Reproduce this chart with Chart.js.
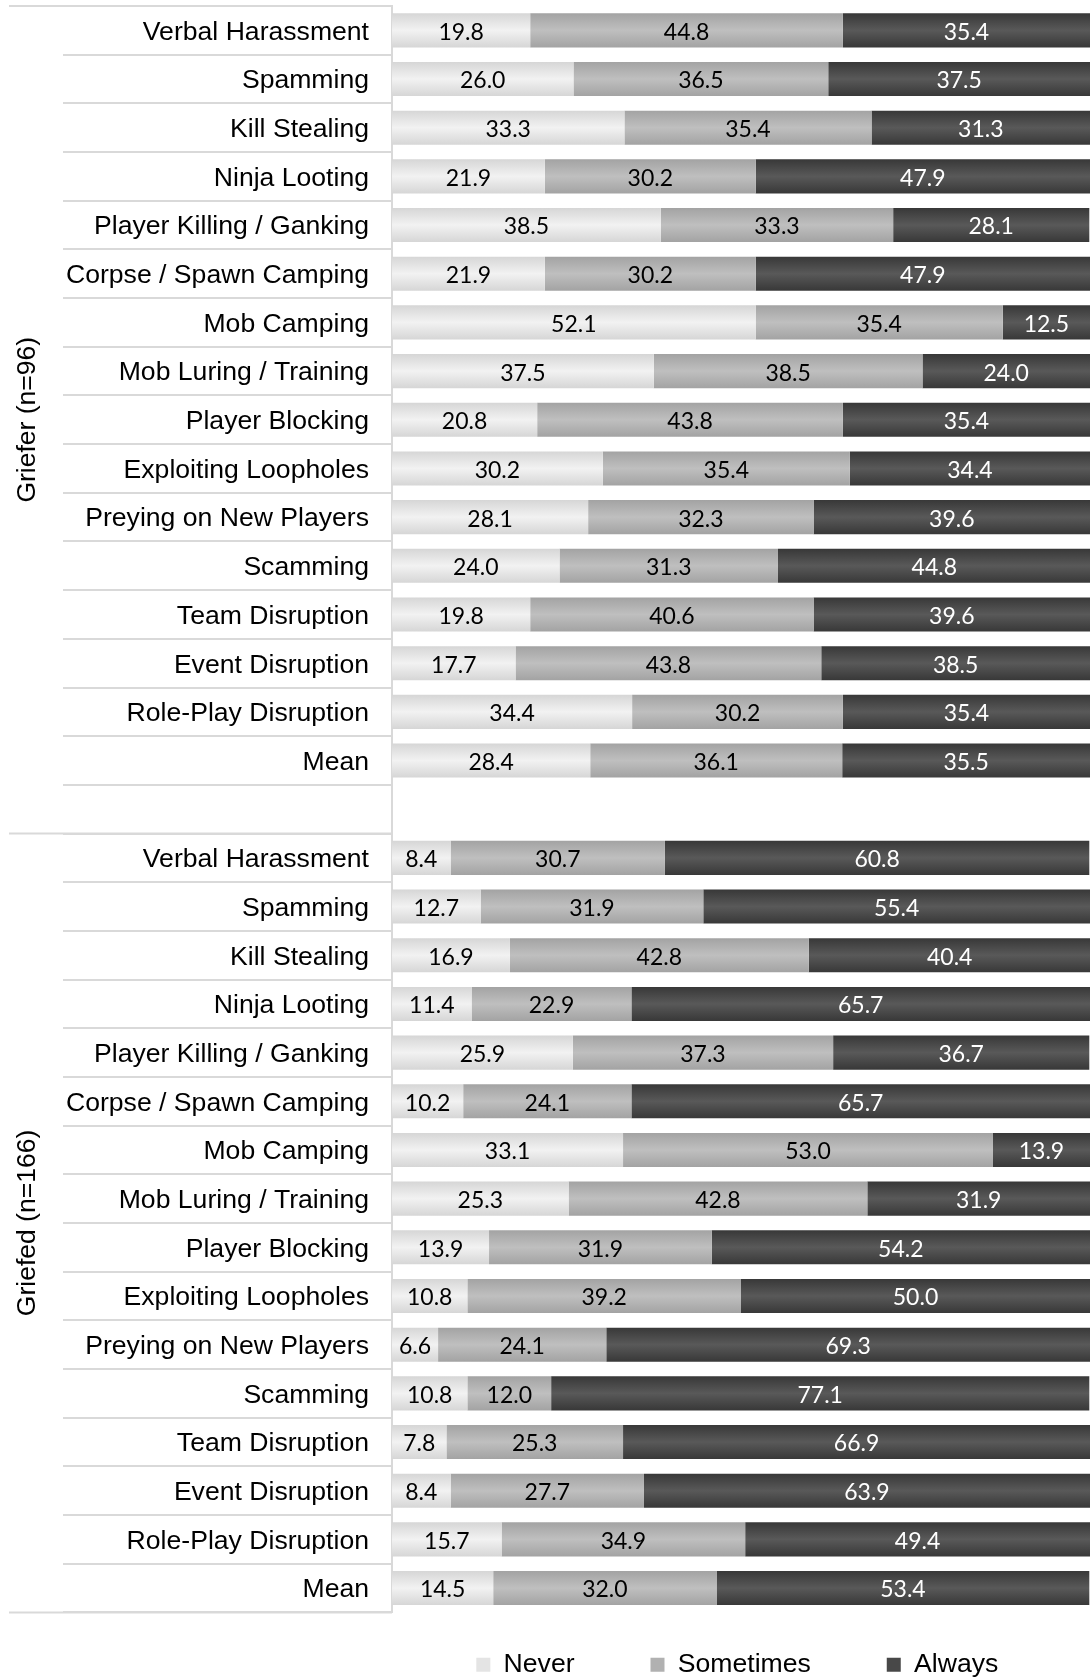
<!DOCTYPE html>
<html><head><meta charset="utf-8">
<script src="https://cdn.jsdelivr.net/npm/chart.js@4.4.1/dist/chart.umd.min.js"></script>
<style>html,body{margin:0;padding:0;background:#fff}#wrap{width:1090px;height:1679px;position:relative}</style>
</head><body><div id="wrap"><canvas id="c"></canvas></div>
<script>
const behaviours = ['Verbal Harassment','Spamming','Kill Stealing','Ninja Looting','Player Killing / Ganking','Corpse / Spawn Camping','Mob Camping','Mob Luring / Training','Player Blocking','Exploiting Loopholes','Preying on New Players','Scamming','Team Disruption','Event Disruption','Role-Play Disruption','Mean'];
const groups = ['Griefer (n=96)','Griefed (n=166)'];
const seriesNames = ['Never','Sometimes','Always'];
const grieferNever = [19.8,26.0,33.3,21.9,38.5,21.9,52.1,37.5,20.8,30.2,28.1,24.0,19.8,17.7,34.4,28.4];
const grieferSometimes = [44.8,36.5,35.4,30.2,33.3,30.2,35.4,38.5,43.8,35.4,32.3,31.3,40.6,43.8,30.2,36.1];
const grieferAlways = [35.4,37.5,31.3,47.9,28.1,47.9,12.5,24.0,35.4,34.4,39.6,44.8,39.6,38.5,35.4,35.5];
const griefedNever = [8.4,12.7,16.9,11.4,25.9,10.2,33.1,25.3,13.9,10.8,6.6,10.8,7.8,8.4,15.7,14.5];
const griefedSometimes = [30.7,31.9,42.8,22.9,37.3,24.1,53.0,42.8,31.9,39.2,24.1,12.0,25.3,27.7,34.9,32.0];
const griefedAlways = [60.8,55.4,40.4,65.7,36.7,65.7,13.9,31.9,54.2,50.0,69.3,77.1,66.9,63.9,49.4,53.4];

const rowLabels = [...behaviours, '', ...behaviours];
const join = (a, b) => [...a, null, ...b];

const LABEL_FONT = '"Liberation Sans", Arial, sans-serif';
const edgeColors = ['#d6d6d6', '#a3a3a3', '#383838'];
const midColors = ['#f2f2f2', '#bfbfbf', '#595959'];
const legendColors = ['#e4e4e4', '#b1b1b1', '#484848'];
const legendTail = ['     ', '     ', ' '];
const BAR_PCT = 0.7;

function makeGrad(k) {
  return function (ctx) {
    const chart = ctx.chart;
    const ys = chart.scales && chart.scales.y;
    if (!ys || ys.top === undefined || ctx.type !== 'data') return midColors[k];
    const c = ys.getPixelForValue(ctx.dataIndex);
    const band = (ys.bottom - ys.top) / rowLabels.length;
    const h = band * BAR_PCT;
    const g = chart.ctx.createLinearGradient(0, c - h / 2, 0, c + h / 2);
    g.addColorStop(0, edgeColors[k]);
    g.addColorStop(0.5, midColors[k]);
    g.addColorStop(1, edgeColors[k]);
    return g;
  };
}

const valueLabels = {
  id: 'valueLabels',
  afterDatasetsDraw(chart) {
    const ctx = chart.ctx;
    ctx.save();
    ctx.font = '23px Lato, "Open Sans", sans-serif';
    ctx.textAlign = 'center';
    ctx.textBaseline = 'middle';
    chart.data.datasets.forEach((ds, i) => {
      const meta = chart.getDatasetMeta(i);
      meta.data.forEach((bar, j) => {
        const v = ds.data[j];
        if (v === null || v === undefined) return;
        ctx.fillStyle = i === 2 ? '#ffffff' : '#000000';
        ctx.fillText(v.toFixed(1), (bar.x + bar.base) / 2, bar.y + 2);
      });
    });
    ctx.restore();
  }
};

const groupFrame = {
  id: 'groupFrame',
  afterDraw(chart) {
    const ys = chart.scales.y;
    const ctx = chart.ctx;
    const band = (ys.bottom - ys.top) / rowLabels.length;
    const bounds = [ys.top, ys.top + (behaviours.length + 1) * band, ys.bottom];
    ctx.save();
    ctx.strokeStyle = '#d9d9d9';
    ctx.lineWidth = 2;
    bounds.forEach(b => {
      ctx.beginPath();
      ctx.moveTo(9, b);
      ctx.lineTo(ys.right, b);
      ctx.stroke();
    });
    ctx.fillStyle = '#000';
    ctx.font = '26.5px ' + LABEL_FONT;
    ctx.textAlign = 'center';
    ctx.textBaseline = 'alphabetic';
    groups.forEach((g, k) => {
      const yc = (bounds[k] + bounds[k + 1]) / 2;
      ctx.save();
      ctx.translate(35, yc);
      ctx.rotate(-Math.PI / 2);
      ctx.fillText(g, 0, 0);
      ctx.restore();
    });
    ctx.restore();
  }
};

new Chart(document.getElementById('c'), {
  type: 'bar',
  data: {
    labels: rowLabels,
    datasets: [
      { label: seriesNames[0], data: join(grieferNever, griefedNever), backgroundColor: makeGrad(0) },
      { label: seriesNames[1], data: join(grieferSometimes, griefedSometimes), backgroundColor: makeGrad(1) },
      { label: seriesNames[2], data: join(grieferAlways, griefedAlways), backgroundColor: makeGrad(2) }
    ]
  },
  options: {
    indexAxis: 'y',
    responsive: true,
    maintainAspectRatio: false,
    animation: false,
    devicePixelRatio: 1,
    datasets: { bar: { barPercentage: BAR_PCT, categoryPercentage: 1, borderWidth: 0 } },
    layout: { padding: { top: 6, bottom: -9, left: 0, right: 0 } },
    scales: {
      x: { stacked: true, min: 0, max: 100, display: false },
      y: {
        stacked: true,
        offset: true,
        afterFit(scale) { scale.width = 392; },
        grid: { offset: true, drawOnChartArea: false, drawTicks: true, tickLength: 329, color: '#d9d9d9', lineWidth: 2 },
        border: { display: true, color: '#d9d9d9', width: 2 },
        ticks: { autoSkip: false, padding: -306, labelOffset: 2, color: '#000', font: { family: LABEL_FONT, size: 26.6 } }
      }
    },
    plugins: {
      tooltip: { enabled: false },
      legend: {
        position: 'bottom',
        fullSize: false,
        align: 'center',
        labels: {
          boxWidth: 14, boxHeight: 14, padding: 39, color: '#000',
          font: { family: LABEL_FONT, size: 26.6 },
          generateLabels() {
            return seriesNames.map((n, i) => ({
              text: n + legendTail[i],
              fillStyle: legendColors[i], strokeStyle: legendColors[i], lineWidth: 0,
              hidden: false, datasetIndex: i, fontColor: '#000'
            }));
          }
        }
      }
    }
  },
  plugins: [valueLabels, groupFrame]
});
</script>
</body></html>
